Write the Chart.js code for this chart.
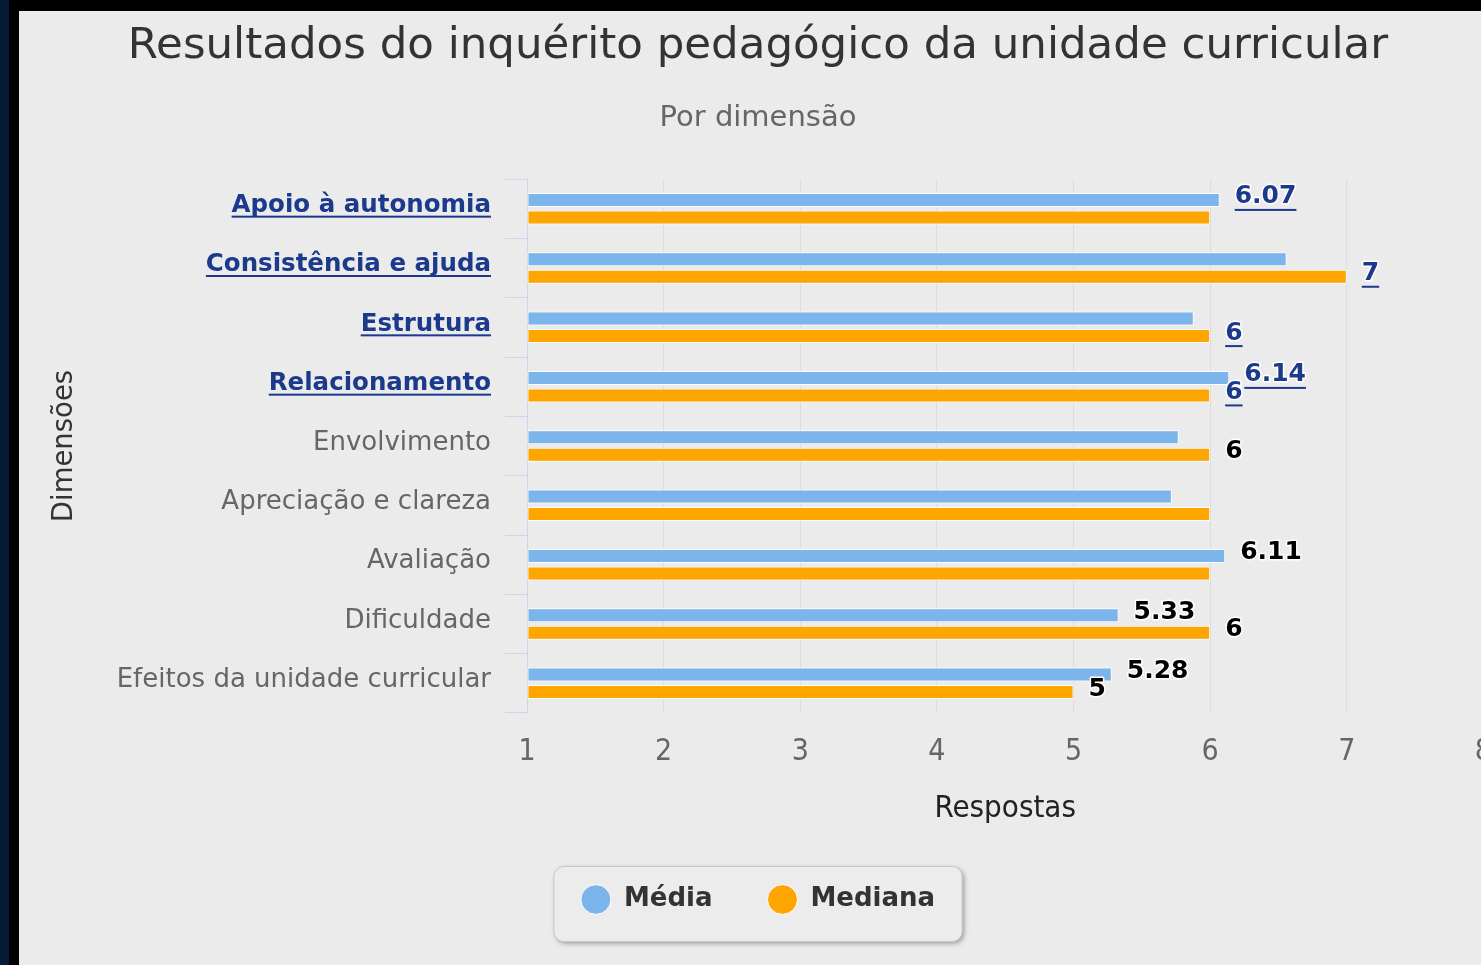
<!DOCTYPE html>
<html>
<head>
<meta charset="utf-8">
<script src="https://cdn.jsdelivr.net/npm/chart.js@4/dist/chart.umd.min.js"></script>
<style>
    html, body { margin: 0; padding: 0; width: 1481px; height: 965px; overflow: hidden; background: #071a38; }
    #frame { position: absolute; left: 9px; top: 0; right: 0; bottom: 0; background: #000; }
    #wrap  { position: absolute; left: 19px; top: 11px; width: 1494px; height: 954px; background: #ebebeb; }
</style>
</head>
<body>
<div id="frame"></div>
<div id="wrap"><canvas id="surveyChart" width="1494" height="954"></canvas></div>
<script>
const categories = [
    'Apoio à autonomia', 'Consistência e ajuda', 'Estrutura', 'Relacionamento',
    'Envolvimento', 'Apreciação e clareza', 'Avaliação', 'Dificuldade',
    'Efeitos da unidade curricular'
];
const linkedDims     = [true, true, true, true, false, false, false, false, false];
const mediaValues    = [6.07, 6.56, 5.88, 6.14, 5.77, 5.72, 6.11, 5.33, 5.28];
const medianaValues  = [6, 7, 6, 6, 6, 6, 6, 6, 5];
const mediaShown     = [true, false, false, true, false, false, true, true, true];
const medianaShown   = [false, true, true, true, true, false, false, true, true];
const xMin = 1, xMax = 8;

const FONT      = "'DejaVu Sans', sans-serif";
const NARROW    = "'Liberation Sans Narrow', 'DejaVu Sans Condensed', sans-serif";
const LINK_BLUE = '#1c3a8c';
const TICK_LEN  = 22;
const TICK_PAD  = 14;
const LABEL_OFF = -3;

function catFont(i) {
    return linkedDims[i]
        ? { family: FONT, size: 24.5, weight: 'bold' }
        : { family: FONT, size: 26, weight: 'normal' };
}

// rounded legend frame with a soft shadow, like the original
const legendFrame = {
    id: 'legendFrame',
    beforeDraw(chart) {
        const hb = chart.legend && chart.legend.legendHitBoxes;
        if (!hb || !hb.length) return;
        const first = hb[0], last = hb[hb.length - 1];
        const cy = first.top + first.height / 2;
        const x = first.left - 27, w = last.left + last.width + 27 - x;
        const y = cy - 33, h = 75;
        const ctx = chart.ctx;
        ctx.save();
        ctx.shadowColor = 'rgba(0,0,0,0.35)';
        ctx.shadowBlur = 5;
        ctx.shadowOffsetX = 2;
        ctx.shadowOffsetY = 2;
        ctx.beginPath();
        ctx.roundRect(x, y, w, h, 10);
        ctx.fillStyle = '#ececec';
        ctx.fill();
        ctx.shadowColor = 'transparent';
        ctx.lineWidth = 1;
        ctx.strokeStyle = '#c9c9c9';
        ctx.stroke();
        ctx.restore();
    }
};

// underline the linked category names
const linkUnderline = {
    id: 'linkUnderline',
    afterDraw(chart) {
        const sc = chart.scales.y, ctx = chart.ctx;
        const right = chart.chartArea.left - TICK_LEN - TICK_PAD;
        ctx.save();
        categories.forEach((c, i) => {
            if (!linkedDims[i]) return;
            const f = catFont(i);
            ctx.font = `${f.weight} ${f.size}px ${f.family}`;
            const w = ctx.measureText(c).width;
            const y = sc.getPixelForTick(i) + LABEL_OFF + 10;
            ctx.fillStyle = LINK_BLUE;
            ctx.fillRect(right - w, y, w, 2);
        });
        ctx.restore();
    }
};

// value labels to the right of the bars
const valueLabels = {
    id: 'valueLabels',
    afterDatasetsDraw(chart) {
        const ctx = chart.ctx;
        const shownSets = [mediaShown, medianaShown];
        ctx.save();
        ctx.font = `bold 25px ${FONT}`;
        ctx.textAlign = 'left';
        ctx.textBaseline = 'middle';
        ctx.lineJoin = 'round';
        chart.data.datasets.forEach((ds, di) => {
            chart.getDatasetMeta(di).data.forEach((bar, i) => {
                if (!shownSets[di][i]) return;
                const txt = String(ds.data[i]);
                const x = bar.x + 15, y = bar.y - 3;
                ctx.lineWidth = 3;
                ctx.strokeStyle = '#ffffff';
                ctx.strokeText(txt, x, y);
                ctx.fillStyle = linkedDims[i] ? LINK_BLUE : '#000000';
                ctx.fillText(txt, x, y);
                if (linkedDims[i]) {
                    const w = ctx.measureText(txt).width;
                    ctx.fillRect(x, y + 12, w, 2);
                }
            });
        });
        ctx.restore();
    }
};

new Chart(document.getElementById('surveyChart').getContext('2d'), {
    type: 'bar',
    data: {
        labels: categories,
        datasets: [
            {
                label: 'Média', data: mediaValues,
                backgroundColor: '#7cb5ec', borderColor: '#ffffff',
                borderWidth: 1, borderSkipped: false, base: xMin,
                categoryPercentage: 0.59, barPercentage: 0.8,
            },
            {
                label: 'Mediana', data: medianaValues,
                backgroundColor: '#ffa500', borderColor: '#ffffff',
                borderWidth: 1, borderSkipped: false, base: xMin,
                categoryPercentage: 0.59, barPercentage: 0.8,
            }
        ]
    },
    options: {
        indexAxis: 'y',
        responsive: false, animation: false,
        layout: { padding: { left: 0, right: 16, top: 0, bottom: 42.5 } },
        plugins: {
            title: {
                display: true, text: 'Resultados do inquérito pedagógico da unidade curricular',
                color: '#333333', font: { family: FONT, size: 43.5, weight: 'normal' },
                padding: { top: 10, bottom: 28 },
            },
            subtitle: {
                display: true, text: 'Por dimensão',
                color: '#666666', font: { family: FONT, size: 29, weight: 'normal' },
                padding: { top: 0, bottom: 43 },
            },
            legend: {
                position: 'bottom',
                labels: {
                    usePointStyle: true, pointStyle: 'circle',
                    pointStyleWidth: 30, boxHeight: 21, padding: 55,
                    color: '#333333', font: { family: FONT, size: 26, weight: 'bold' },
                }
            },
            tooltip: { enabled: false },
        },
        scales: {
            x: {
                type: 'linear', min: xMin, max: xMax,
                ticks: { stepSize: 1, padding: 21, color: '#666666', font: { family: NARROW, size: 30 } },
                grid: { drawTicks: false, color: c => c.index === 0 ? 'rgba(0,0,0,0)' : '#dcdcdc' },
                border: { display: false },
                title: {
                    display: true, text: 'Respostas', color: '#222222',
                    font: { family: "'DejaVu Sans Condensed', sans-serif", size: 31 },
                    padding: { top: 20, bottom: 3.9 },
                },
                afterFit(s) { s.height = 118.5; },
            },
            y: {
                type: 'category',
                ticks: {
                    padding: TICK_PAD, labelOffset: LABEL_OFF,
                    color: c => linkedDims[c.index] ? LINK_BLUE : '#666666',
                    font: c => catFont(c.index),
                },
                grid: { offset: true, drawOnChartArea: false, drawTicks: true, tickLength: TICK_LEN, color: '#ccd6eb' },
                border: { display: true, color: '#ccd6eb', width: 1 },
                title: {
                    display: true, text: 'Dimensões', color: '#333333',
                    font: { family: FONT, size: 27.5 },
                    padding: { top: 29.5, bottom: 0 },
                },
                afterFit(s) { s.width = 508; },
            }
        }
    },
    plugins: [legendFrame, linkUnderline, valueLabels]
});
</script>
</body>
</html>
